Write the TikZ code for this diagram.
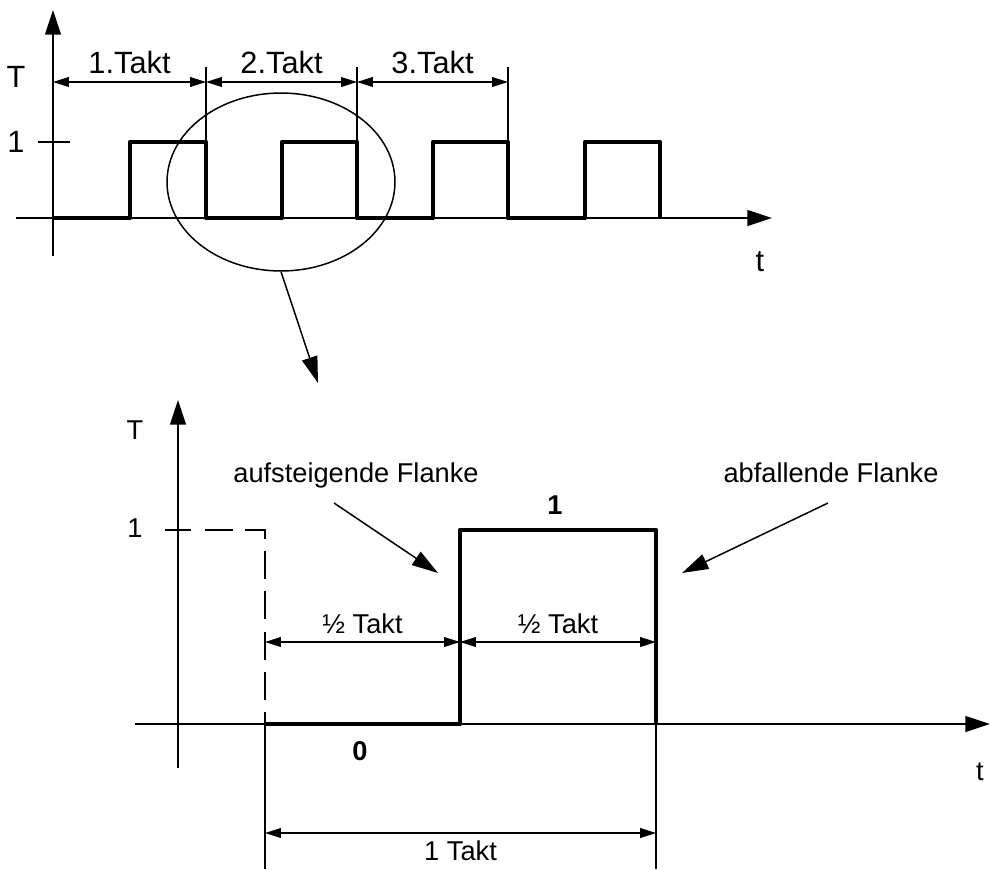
\documentclass[tikz,border=0pt]{standalone}
\usepackage{fontspec}
\setmainfont{Liberation Sans}
\usetikzlibrary{arrows.meta,positioning,shapes.geometric}

\begin{document}
\begin{tikzpicture}[
                x=0.02cm, y=-0.02cm,
                thinline/.style={
                    line width=0.85pt
                },
                axis/.style={
                    thinline,
                    -{Triangle[length=14pt,width=9pt]}
                },
                dim/.style={
                    thinline,
                    {Triangle[length=9pt,width=5.5pt]}-{Triangle[length=9pt,width=5.5pt]}
                },
                pointer/.style={
                    thinline,
                    -{Triangle[length=15pt,width=9pt]}
                },
                signal/.style={
                    line width=2.7pt,
                    line join=round
                },
                dashsignal/.style={
                    line width=1.6pt,
                    dash pattern=on 16pt off 7pt
                },
                biglabel/.style={
                    font=\fontsize{17.5}{20}\selectfont,
                    inner sep=1pt
                },
                label/.style={
                    font=\fontsize{15.5}{18}\selectfont,
                    inner sep=1pt
                },
                level/.style={
                    font=\fontsize{15.5}{18}\selectfont\bfseries,
                    inner sep=1pt
                }
            ]
    \useasboundingbox (0,0) rectangle (990,869);

    % upper diagram: clock signal
    \draw[axis] (53,256) -- (53,10);
    \draw[axis] (16,218) -- (772,218);
    \draw[thinline] (38,142) -- (70,142);
    \node[biglabel] (tlabel1) at (16,77) {T};
    \node[biglabel] (one1) at (16,142) {1};
    \node[biglabel] (time1) at (760,262) {t};

    \draw[signal] (53,218) -- (130,218) -- (130,142) -- (206,142) -- (206,218)
        -- (282,218) -- (282,142) -- (357,142) -- (357,218)
        -- (433,218) -- (433,142) -- (508,142) -- (508,218)
        -- (585,218) -- (585,142) -- (660,142) -- (660,218);

    \foreach \x in {206,357,508}
        \draw[thinline] (\x,67) -- (\x,142);

    \coordinate (c0) at (53,82);
    \coordinate (c1) at (206,82);
    \coordinate (c2) at (357,82);
    \coordinate (c3) at (508,82);
    \draw[dim] (c0) -- (c1) node[biglabel, midway, above=3pt] (takt1) {1.Takt};
    \draw[dim] (c1) -- (c2) node[biglabel, midway, above=3pt] (takt2) {2.Takt};
    \draw[dim] (c2) -- (c3) node[biglabel, midway, above=3pt] (takt3) {3.Takt};

    \node[draw, thinline, ellipse, inner sep=0pt,
          minimum width=4.56cm, minimum height=3.56cm] (lupe) at (281,182) {};
    \coordinate (zoomtip) at (318,383);
    \draw[pointer] (lupe.south) -- (zoomtip);

    % lower diagram: one clock period
    \draw[axis] (178,768) -- (178,400);
    \draw[axis] (135,724) -- (990,724);
    \draw[thinline] (165,530) -- (191,530);
    \node[label] (tlabel2) at (135,430) {T};
    \node[label] (one2) at (135,528) {1};
    \node[label] (time2) at (980,772) {t};

    \draw[dashsignal] (205,530) -- (265,530) -- (265,724);
    \draw[signal] (265,724) -- (460,724) -- (460,530) -- (656,530) -- (656,724);
    \draw[dashsignal] (656,724) -- (742,724);

    \node[level] (high) at (555,505) {1};
    \node[level] (low) at (360,751) {0};

    \draw[thinline] (265,724) -- (265,869);
    \draw[thinline] (656,724) -- (656,869);

    \coordinate (h0) at (265,642);
    \coordinate (h1) at (460,642);
    \coordinate (h2) at (656,642);
    \draw[dim] (h0) -- (h1) node[label, midway, above=3pt] (half1) {½ Takt};
    \draw[dim] (h1) -- (h2) node[label, midway, above=3pt] (half2) {½ Takt};

    \coordinate (p0) at (265,833);
    \coordinate (p1) at (656,833);
    \draw[dim] (p0) -- (p1) node[label, midway, below=3pt] (period) {1 Takt};

    \node[label] (rise) at (356,475) {aufsteigende Flanke};
    \node[label] (fall) at (831,473) {abfallende Flanke};
    \coordinate (risetip) at (438,573);
    \coordinate (falltip) at (682,573);
    \draw[pointer] (334,503) -- (risetip);
    \draw[pointer] (828,503) -- (falltip);
\end{tikzpicture}
\end{document}
